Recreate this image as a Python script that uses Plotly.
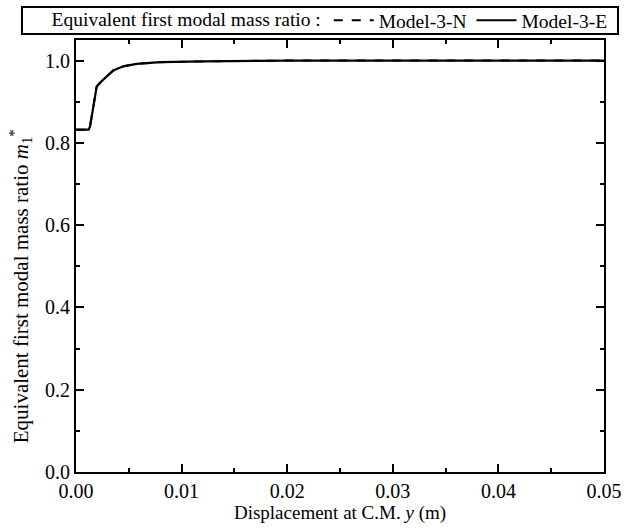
import plotly.graph_objects as go

# Data (both models overlap)
disp = [0.0, 0.0012, 0.00133, 0.00164, 0.00196, 0.00243, 0.0029, 0.00353, 0.00448,
        0.00575, 0.008, 0.012, 0.02, 0.03, 0.04, 0.05]
ratio_e = [0.832, 0.832, 0.84, 0.889, 0.937, 0.950, 0.962, 0.976, 0.986,
           0.992, 0.996, 0.998, 1.0, 1.0, 1.0, 1.0]
ratio_n = list(ratio_e)

x_ticks = [0.0, 0.01, 0.02, 0.03, 0.04, 0.05]
y_ticks = [0.0, 0.2, 0.4, 0.6, 0.8, 1.0]

FONT = "Liberation Serif"

fig = go.Figure()
fig.add_trace(go.Scatter(x=disp, y=ratio_n, mode="lines", name="Model-3-N",
                         line=dict(color="black", width=2, dash="dash")))
fig.add_trace(go.Scatter(x=disp, y=ratio_e, mode="lines", name="Model-3-E",
                         line=dict(color="black", width=2.2)))

axis_common = dict(showgrid=False, zeroline=False, showline=True, linecolor="black",
                   linewidth=2, mirror="allticks", ticks="inside", ticklen=8,
                   tickwidth=1.5, tickcolor="black",
                   tickfont=dict(family=FONT, size=20, color="black"))

fig.update_xaxes(range=[0, 0.05], tickvals=x_ticks,
                 ticktext=[f"{v:.2f}" for v in x_ticks],
                 minor=dict(dtick=0.005, ticks="inside", ticklen=4, tickwidth=1.5, tickcolor="black"),
                 title=dict(text="Displacement at C.M. <i>y</i> (m)",
                            font=dict(family=FONT, size=19, color="black"), standoff=4),
                 **axis_common)
fig.update_yaxes(range=[0, 1.05], tickvals=y_ticks,
                 ticktext=[f"{v:.1f}" for v in y_ticks],
                 minor=dict(dtick=0.1, ticks="inside", ticklen=4, tickwidth=1.5, tickcolor="black"),
                 **axis_common)

# y-axis title as annotation (positioned like the reference)
fig.add_annotation(text="Equivalent first modal mass ratio <i>m</i><sub>1</sub><sup>*</sup>",
                   xref="paper", yref="paper", x=-0.106, y=0.43,
                   xanchor="center", yanchor="middle", textangle=-90, showarrow=False,
                   font=dict(family=FONT, size=21, color="black"))

# legend frame
fig.add_shape(type="rect", xref="paper", yref="paper",
              x0=-0.1023, x1=1.0265, y0=1.0139, y1=1.0764,
              line=dict(color="black", width=2), fillcolor="white", layer="below")

fig.update_layout(
    width=624, height=530,
    margin=dict(l=76, r=20, t=40, b=58, autoexpand=False),
    paper_bgcolor="white", plot_bgcolor="white",
    showlegend=True,
    legend=dict(orientation="h", x=-0.05, xanchor="left", y=1.045, yanchor="middle",
                borderwidth=0, bgcolor="rgba(0,0,0,0)",
                font=dict(family=FONT, size=19.5, color="black"),
                title=dict(text="Equivalent first modal mass ratio :", side="left",
                           font=dict(family=FONT, size=19.5, color="black")),
                itemwidth=40, tracegroupgap=0),
)

fig.write_html("out.html")
